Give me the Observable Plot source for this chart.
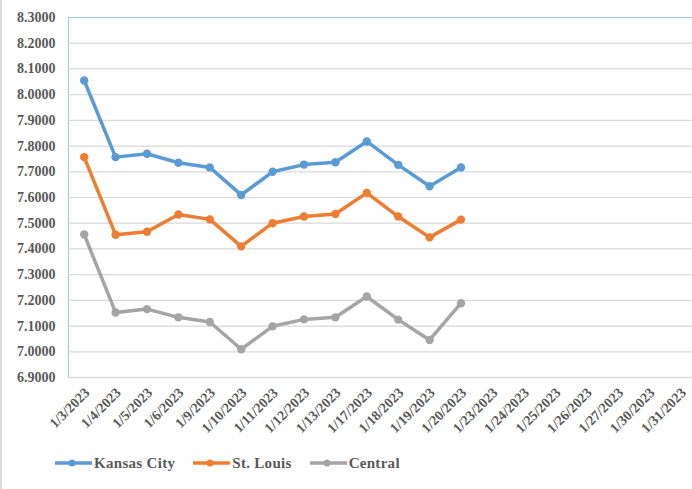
<!DOCTYPE html>
<html>
<head>
<meta charset="utf-8">
<script src="https://cdn.jsdelivr.net/npm/d3@7"></script>
<script src="https://cdn.jsdelivr.net/npm/@observablehq/plot@0.6"></script>
<style>
  html, body { margin: 0; padding: 0; background: #fff; }
  body { width: 692px; height: 489px; overflow: hidden; position: relative; }
  #edge { position: absolute; left: 0; top: 0; width: 2px; height: 489px; background: #dcdcdc; }
  #chart svg, #chart svg text { font-family: "Liberation Serif", "Times New Roman", serif !important; font-weight: bold; }
  #legend { display: flex; align-items: center; height: 36px; padding-left: 55px;
            font-family: "Liberation Serif", "Times New Roman", serif; font-weight: bold; font-size: 15px;
            letter-spacing: 0.3px; color: #595959; }
  .item { display: flex; align-items: center; margin-right: 18px; }
  .item svg { margin-right: 2px; }
</style>
</head>
<body>
<div id="edge"></div>
<div id="chart"></div>
<div id="legend"></div>
<script>
const dates = ["1/3/2023","1/4/2023","1/5/2023","1/6/2023","1/9/2023","1/10/2023","1/11/2023",
  "1/12/2023","1/13/2023","1/17/2023","1/18/2023","1/19/2023","1/20/2023","1/23/2023",
  "1/24/2023","1/25/2023","1/26/2023","1/27/2023","1/30/2023","1/31/2023"];
const seriesNames = ["Kansas City", "St. Louis", "Central"];
const seriesColors = ["#5B9BD5", "#ED7D31", "#A5A5A5"];
const kansasCity = [8.055, 7.757, 7.770, 7.735, 7.717, 7.610, 7.700, 7.728, 7.737, 7.818, 7.727, 7.644, 7.717];
const stLouis    = [7.757, 7.455, 7.467, 7.534, 7.515, 7.410, 7.500, 7.526, 7.536, 7.618, 7.526, 7.445, 7.514];
const central    = [7.456, 7.153, 7.166, 7.134, 7.116, 7.010, 7.099, 7.126, 7.134, 7.215, 7.125, 7.046, 7.189];
const yTicks = [6.9, 7.0, 7.1, 7.2, 7.3, 7.4, 7.5, 7.6, 7.7, 7.8, 7.9, 8.0, 8.1, 8.2, 8.3];

const values = [kansasCity, stLouis, central];
const data = seriesNames.flatMap((s, k) => values[k].map((v, i) => ({date: dates[i], value: v, series: s})));

const chart = Plot.plot({
  width: 692,
  height: 445,
  marginTop: 17,
  marginBottom: 68,
  marginLeft: 68,
  marginRight: -4,
  style: {fontSize: "14px", color: "#595959", background: "transparent", overflow: "visible"},
  x: {type: "point", domain: dates, padding: 0.5, round: false},
  y: {domain: [6.9, 8.3]},
  color: {domain: seriesNames, range: seriesColors},
  marks: [
    Plot.frame({stroke: "#A9CAD3", strokeWidth: 1.2}),
    Plot.gridY(yTicks.slice(0, -1), {stroke: "#D9D9D9", strokeOpacity: 1, strokeWidth: 1.2}),
    Plot.axisY(yTicks, {tickSize: 0, tickPadding: 13, tickFormat: d => d.toFixed(4), fontSize: 14, letterSpacing: 0.5, label: null}),
    Plot.axisX(dates, {tickSize: 0, tickRotate: -45, tickPadding: 13, dx: 3, fontSize: 14, letterSpacing: 1.2, label: null}),
    Plot.line(data, {x: "date", y: "value", z: "series", stroke: "series", strokeWidth: 3.5}),
    Plot.dot(data, {x: "date", y: "value", fill: "series", r: 4.2})
  ]
});
document.getElementById("chart").appendChild(chart);

const legend = document.getElementById("legend");
seriesNames.forEach((s, i) => {
  const item = document.createElement("div");
  item.className = "item";
  item.innerHTML = `<svg width="37" height="12"><line x1="0" x2="37" y1="6" y2="6" stroke="${seriesColors[i]}" stroke-width="3.5"/><circle cx="17" cy="6" r="3.5" fill="${seriesColors[i]}"/></svg><span>${s}</span>`;
  legend.appendChild(item);
});
</script>
</body>
</html>
